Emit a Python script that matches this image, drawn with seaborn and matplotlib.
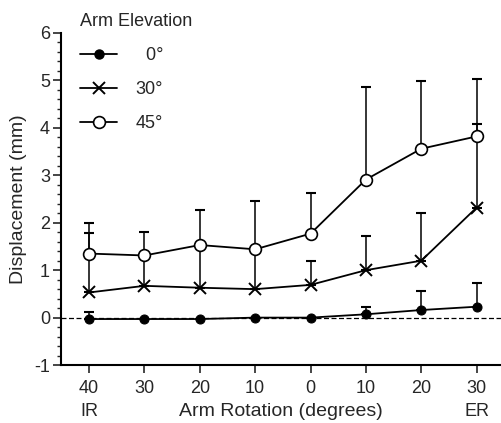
import numpy as np
import pandas as pd
import matplotlib
matplotlib.use("Agg")
import matplotlib.pyplot as plt
import seaborn as sns
from matplotlib.lines import Line2D
from matplotlib.ticker import MultipleLocator

rotation_labels = ["40\nIR", "30", "20", "10", "0", "10", "20", "30\nER"]
elevations = ["0°", "30°", "45°"]
mean_0 = [-0.03, -0.03, -0.03, 0.0, 0.0, 0.07, 0.16, 0.23]
upper_0 = [0.12, -0.03, -0.03, 0.0, 0.0, 0.23, 0.56, 0.72]
mean_30 = [0.53, 0.67, 0.63, 0.60, 0.69, 1.00, 1.20, 2.32]
upper_30 = [1.79, 1.35, 1.55, 1.45, 1.19, 1.72, 2.21, 4.08]
mean_45 = [1.35, 1.31, 1.53, 1.44, 1.77, 2.91, 3.56, 3.82]
upper_45 = [2.00, 1.81, 2.26, 2.45, 2.63, 4.87, 4.98, 5.03]

sns.set_theme(style="ticks")
plt.rcParams["font.family"] = ["Liberation Sans", "DejaVu Sans"]
plt.rcParams["axes.unicode_minus"] = False

means = [mean_0, mean_30, mean_45]
uppers = [upper_0, upper_30, upper_45]
pos = np.arange(len(rotation_labels))

fig = plt.figure(figsize=(5.01, 4.23), dpi=100)
ax = fig.add_axes([0.122, 0.137, 0.878, 0.785])

ax.axhline(0, color="black", lw=0.9, ls=(0, (4, 2)), zorder=1)

for m, u in zip(means, uppers):
    m = np.array(m); u = np.array(u)
    err = np.clip(u - m, 0, None)
    ax.errorbar(pos, m, yerr=[np.zeros_like(err), err], fmt="none",
                ecolor="black", elinewidth=1.1, capsize=3.5, capthick=1.5, zorder=2)

styles = {
    "0°": dict(marker="o", markersize=6.5, markerfacecolor="black", markeredgecolor="black"),
    "30°": dict(marker="x", markersize=9, markeredgewidth=1.4, markeredgecolor="black"),
    "45°": dict(marker="o", markersize=8.5, markerfacecolor="white", markeredgecolor="black", markeredgewidth=1.2),
}
for el, m in zip(elevations, means):
    df = pd.DataFrame({"pos": pos, "disp": m})
    sns.lineplot(data=df, x="pos", y="disp", color="black", lw=1.3, ax=ax,
                 zorder=3, **styles[el])

ax.set_xlim(-0.505, 7.44)
ax.set_ylim(-1, 6)
ax.set_xticks(pos)
ax.set_xticklabels(rotation_labels, fontsize=13, linespacing=1.4)
ax.yaxis.set_major_locator(MultipleLocator(1))
ax.yaxis.set_minor_locator(MultipleLocator(0.2))
ax.tick_params(axis="y", which="major", length=6, width=1.2, labelsize=13, pad=2)
ax.tick_params(axis="y", which="minor", length=3, width=1.0)
ax.tick_params(axis="x", which="major", length=6, width=1.2, pad=5)
ax.set_xlabel("Arm Rotation (degrees)", fontsize=14)
ax.xaxis.set_label_coords(0.5, -0.139)
ax.xaxis.label.set_verticalalignment("center")
ax.set_ylabel("Displacement (mm)", fontsize=14)
ax.yaxis.set_label_coords(-0.098, 0.5)
ax.yaxis.label.set_verticalalignment("center")
for s in ["top", "right"]:
    ax.spines[s].set_visible(False)
for s in ["left", "bottom"]:
    ax.spines[s].set_linewidth(1.5)
    ax.spines[s].set_color("black")

handles = [
    Line2D([], [], color="black", lw=1.3, marker="o", markersize=6.5, markerfacecolor="black"),
    Line2D([], [], color="black", lw=1.3, marker="x", markersize=9, markeredgewidth=1.4),
    Line2D([], [], color="black", lw=1.3, marker="o", markersize=8.5, markerfacecolor="white", markeredgewidth=1.2),
]
leg = ax.legend(handles, ["  0°", "30°", "45°"], title="Arm Elevation", frameon=False,
                loc="upper left", bbox_to_anchor=(0.005, 1.11), fontsize=13, title_fontsize=13,
                handlelength=2.1, labelspacing=0.95, handletextpad=1.0)
leg._legend_box.align = "left"

fig.savefig("out.png", dpi=100)
